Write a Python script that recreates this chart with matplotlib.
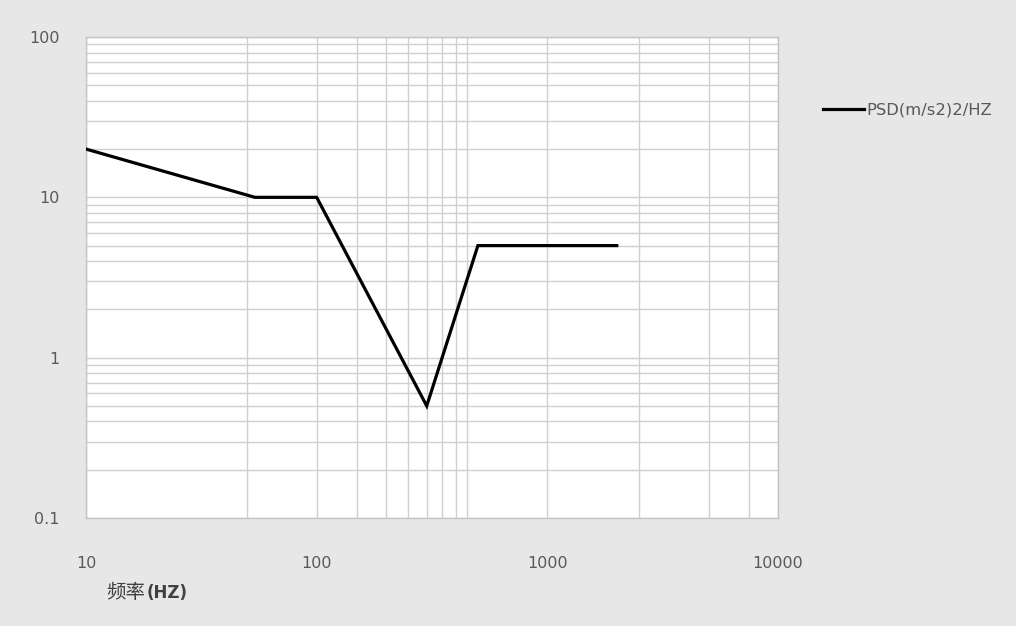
import matplotlib
matplotlib.use("Agg")
import matplotlib.pyplot as plt
from matplotlib.ticker import FixedLocator, LogLocator, NullFormatter, FixedFormatter

# Data
freq = [10, 54, 100, 300, 500, 2000]
psd = [20, 10, 10, 0.5, 5, 5]
series_name = "PSD(m/s2)2/HZ"
x_major = [10, 100, 1000, 10000]
x_major_labels = ["10", "100", "1000", "10000"]
x_minor = [50, 150, 200, 250, 300, 350, 400, 450, 2500, 5000, 7500]
y_major = [0.1, 1, 10, 100]
y_major_labels = ["0.1", "1", "10", "100"]

bg = "#e7e7e7"
grid_c = "#d0d0d0"
txt_c = "#595959"

fig = plt.figure(figsize=(10.16, 6.26), dpi=100, facecolor=bg)
ax = fig.add_axes([86/1016, 1-518/626, (778-86)/1016, (518-37)/626])
ax.set_facecolor("white")
ax.plot(freq, psd, color="black", lw=2.3, label=series_name, solid_joinstyle="miter", zorder=3)
ax.set_xscale("log")
ax.set_yscale("log")
ax.set_xlim(10, 10000)
ax.set_ylim(0.1, 100)

ax.xaxis.set_major_locator(FixedLocator(x_major))
ax.xaxis.set_major_formatter(FixedFormatter(x_major_labels))
ax.xaxis.set_minor_locator(FixedLocator(x_minor))
ax.xaxis.set_minor_formatter(NullFormatter())
ax.yaxis.set_major_locator(FixedLocator(y_major))
ax.yaxis.set_major_formatter(FixedFormatter(y_major_labels))
ax.yaxis.set_minor_locator(LogLocator(base=10, subs=[2, 3, 4, 5, 6, 7, 8, 9]))
ax.yaxis.set_minor_formatter(NullFormatter())

ax.grid(True, which="both", color=grid_c, lw=1.0, zorder=0)
ax.tick_params(which="both", length=0)
ax.tick_params(axis="x", pad=27, labelsize=11.5, labelcolor=txt_c)
ax.tick_params(axis="y", pad=19, labelsize=11.5, labelcolor=txt_c)
for s in ax.spines.values():
    s.set_color("#c4c4c4")
    s.set_linewidth(1.0)

cn = fig.text(106/1016, 1-593/626, "频率", family=["Noto Sans CJK SC", "DejaVu Sans"],
              fontsize=14, color="#404040", va="center", ha="left")
ax.annotate("(HZ)", xy=(1, 0.5), xycoords=cn, xytext=(1, 0), textcoords="offset points",
            family=["DejaVu Sans"], fontweight="bold", fontsize=12, color="#404040",
            va="center", ha="left", annotation_clip=False)

leg = fig.legend(loc="center left", bbox_to_anchor=(823/1016, 1-110/626), frameon=False,
                 handlelength=2.5, handletextpad=0.15, borderaxespad=0, borderpad=0,
                 prop={"family": "DejaVu Sans", "size": 11.8})
for t in leg.get_texts():
    t.set_color(txt_c)

fig.savefig("out.png", dpi=100, facecolor=bg)
